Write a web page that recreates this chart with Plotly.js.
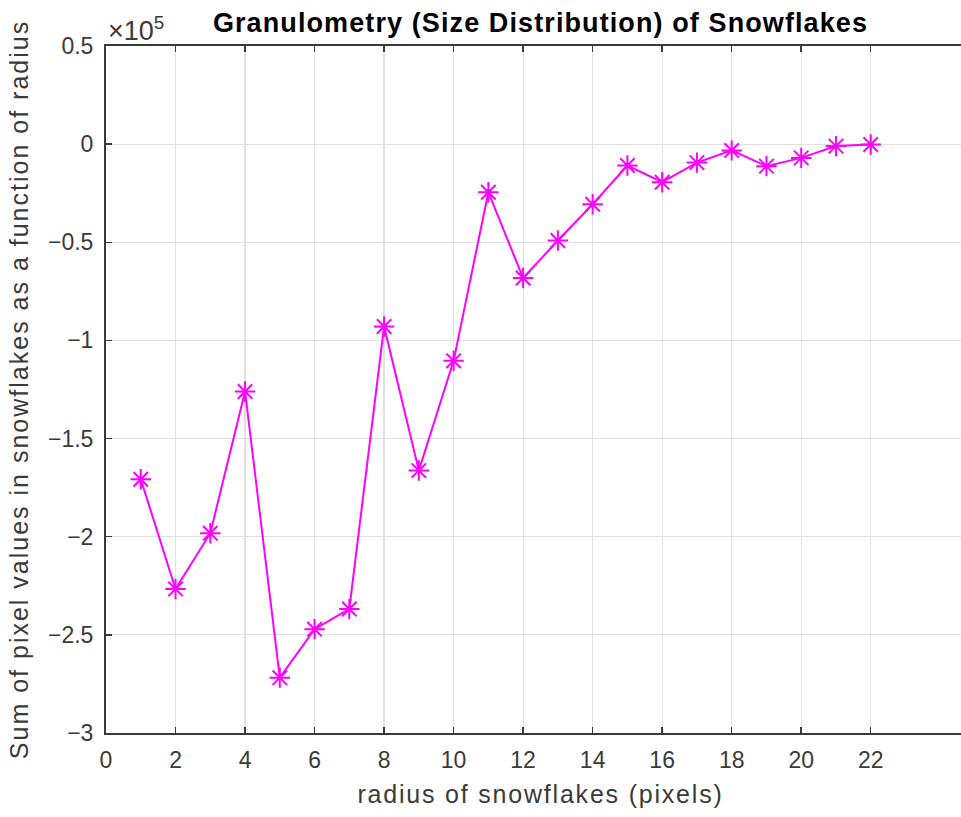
<!DOCTYPE html>
<html>
<head>
<meta charset="utf-8">
<script src="https://cdn.plot.ly/plotly-3.0.1.min.js"></script>
<style>
html,body{margin:0;padding:0;background:#fff;overflow:hidden;}
#wrap{width:961px;height:817px;overflow:hidden;position:relative;}
#chart{width:975px;height:817px;}
svg text.gtitle{letter-spacing:1.1px;}
svg text.xtitle{letter-spacing:1.8px;}
svg text.ytitle{letter-spacing:2px;}
</style>
</head>
<body>
<div id="wrap"><div id="chart"></div></div>
<script>
const radius = [1,2,3,4,5,6,7,8,9,10,11,12,13,14,15,16,17,18,19,20,21,22];
const pixelSum = [-170700,-226600,-198200,-126000,-271800,-247100,-236800,-92900,-166300,-110400,
  -24500,-68200,-49100,-30600,-10900,-19400,-9400,-3200,-11200,-7000,-1000,-200];
const xTicks = [0,2,4,6,8,10,12,14,16,18,20,22];
const yTickVals = [50000,0,-50000,-100000,-150000,-200000,-250000,-300000];
const yTickText = ['0.5','0','\u22120.5','\u22121','\u22121.5','\u22122','\u22122.5','\u22123'];

const font = 'Liberation Sans, Arial, Helvetica, sans-serif';
const tickCol = '#3a3a3a';

Plotly.newPlot('chart', [{
  x: radius, y: pixelSum, type: 'scatter', mode: 'lines+markers',
  line: {color: '#ff00ff', width: 2},
  marker: {symbol: 'asterisk-open', size: 17, color: '#ff00ff', line: {color: '#ff00ff', width: 2}},
  showlegend: false
}], {
  width: 975, height: 817,
  margin: {l: 106, r: 0, t: 46, b: 84},
  paper_bgcolor: '#fff', plot_bgcolor: '#fff',
  font: {family: font, color: tickCol},
  title: {text: '<b>Granulometry (Size Distribution) of Snowflakes</b>', font: {family: font, size: 27, color: '#000'},
    x: 0.5, xref: 'paper', xanchor: 'center', y: 0.973, yanchor: 'middle'},
  xaxis: {
    range: [0, 25], tickvals: xTicks, ticktext: xTicks.map(String),
    ticks: 'inside', ticklen: 6, tickwidth: 1.5, tickcolor: '#3a3a3a',
    showline: true, linecolor: '#3a3a3a', linewidth: 2, mirror: 'ticks',
    showgrid: true, gridcolor: '#e0e0e0', gridwidth: 1.2, zeroline: false,
    tickfont: {size: 23, color: tickCol}, ticklabelstandoff: 5,
    title: {text: 'radius of snowflakes (pixels)', font: {size: 25, color: tickCol}, standoff: 14}
  },
  yaxis: {
    range: [-300000, 50000], tickvals: yTickVals, ticktext: yTickText,
    ticks: 'inside', ticklen: 6, tickwidth: 1.5, tickcolor: '#3a3a3a',
    showline: true, linecolor: '#3a3a3a', linewidth: 2, mirror: false,
    showgrid: true, gridcolor: '#e0e0e0', gridwidth: 1.2, zeroline: false,
    tickfont: {size: 23, color: tickCol}, ticklabelstandoff: 6,
    title: {text: 'Sum of pixel values in snowflakes as a function of radius', font: {size: 25, color: tickCol}, standoff: 12}
  },
  annotations: [{
    text: '×10<sup>5</sup>', xref: 'paper', yref: 'paper', x: 0, y: 1, xanchor: 'left', yanchor: 'bottom',
    xshift: 0, yshift: -2, showarrow: false, font: {size: 27, color: tickCol}
  }]
}, {displayModeBar: false, staticPlot: true});
</script>
</body>
</html>
